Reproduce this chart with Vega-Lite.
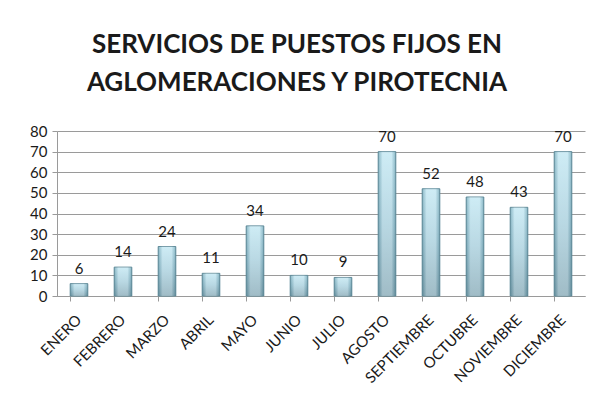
{
  "$schema": "https://vega.github.io/schema/vega-lite/v6.json",
  "autosize": {"type": "none"},
  "width": 528,
  "height": 165,
  "padding": {"left": 57, "top": 131, "right": 9, "bottom": 117},
  "background": "white",
  "title": {
    "text": ["SERVICIOS DE PUESTOS FIJOS EN", "AGLOMERACIONES Y PIROTECNIA"],
    "font": "Lato",
    "fontSize": 26,
    "fontWeight": "bold",
    "color": "#1a1a1a",
    "lineHeight": 38,
    "anchor": "middle",
    "dx": -24,
    "offset": 28
  },
  "data": {
    "values": [
      {"mes": "ENERO", "valor": 6},
      {"mes": "FEBRERO", "valor": 14},
      {"mes": "MARZO", "valor": 24},
      {"mes": "ABRIL", "valor": 11},
      {"mes": "MAYO", "valor": 34},
      {"mes": "JUNIO", "valor": 10},
      {"mes": "JULIO", "valor": 9},
      {"mes": "AGOSTO", "valor": 70},
      {"mes": "SEPTIEMBRE", "valor": 52},
      {"mes": "OCTUBRE", "valor": 48},
      {"mes": "NOVIEMBRE", "valor": 43},
      {"mes": "DICIEMBRE", "valor": 70}
    ]
  },
  "encoding": {
    "x": {
      "field": "mes",
      "type": "nominal",
      "sort": null,
      "scale": {"paddingInner": 0.6, "paddingOuter": 0.3},
      "axis": {
        "title": null,
        "labelAngle": -45,
        "labelAlign": "right",
        "labelBaseline": "middle",
        "labelFont": "Lato",
        "labelFontSize": 15,
        "labelColor": "#1a1a1a",
        "labelPadding": 16,
        "bandPosition": 0,
        "ticks": true,
        "tickSize": 5,
        "tickColor": "#9a9a9a",
        "domainColor": "#9a9a9a",
        "grid": false
      }
    },
    "y": {
      "field": "valor",
      "type": "quantitative",
      "scale": {"domain": [0, 80]},
      "axis": {
        "title": null,
        "values": [0, 10, 20, 30, 40, 50, 60, 70, 80],
        "labelFont": "Lato",
        "labelFontSize": 15,
        "labelColor": "#1a1a1a",
        "labelPadding": 5,
        "tickSize": 5,
        "tickColor": "#9a9a9a",
        "domainColor": "#9a9a9a",
        "gridColor": "#9a9a9a",
        "gridWidth": 1
      }
    }
  },
  "layer": [
    {
      "mark": {
        "type": "bar",
        "stroke": "#5f8b9a",
        "strokeWidth": 1,
        "color": {
          "gradient": "linear",
          "x1": 0, "y1": 0, "x2": 0, "y2": 1,
          "stops": [
            {"offset": 0, "color": "#b4e2f0"},
            {"offset": 0.5, "color": "#93c3d4"},
            {"offset": 1, "color": "#6d98a8"}
          ]
        }
      }
    },
    {
      "mark": {
        "type": "bar",
        "opacity": 0.35,
        "color": {
          "gradient": "linear",
          "x1": 0, "y1": 0, "x2": 1, "y2": 0,
          "stops": [
            {"offset": 0, "color": "#3e6a78"},
            {"offset": 0.25, "color": "#ffffff"},
            {"offset": 0.75, "color": "#ffffff"},
            {"offset": 1, "color": "#3e6a78"}
          ]
        }
      }
    },
    {
      "mark": {
        "type": "text",
        "dy": -15,
        "font": "Lato",
        "fontSize": 15,
        "color": "#1a1a1a"
      },
      "encoding": {"text": {"field": "valor", "type": "quantitative"}}
    }
  ],
  "config": {"view": {"stroke": null}}
}
